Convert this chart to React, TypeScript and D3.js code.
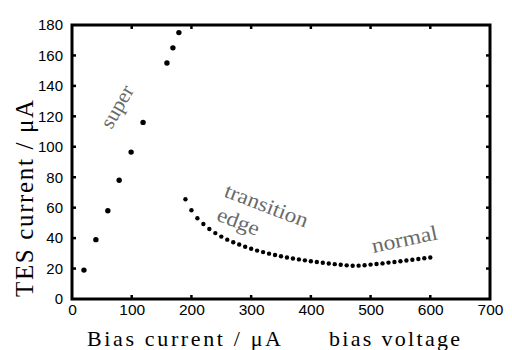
import React, { useEffect, useRef } from 'react';
import * as d3 from 'd3';

// super-conducting branch
const superBias = [20, 40, 60, 79, 99, 119, 159, 169, 179];
const superTes = [19, 39, 58, 78, 96.5, 116, 155, 165, 175];

// transition + normal branch
const transBias = [
  190, 200, 210, 220, 230, 240, 250, 260, 270, 280, 290, 300, 310, 320, 330, 340,
  350, 360, 370, 380, 390, 400, 410, 420, 430, 440, 450, 460, 470, 480, 490, 500,
  510, 520, 530, 540, 550, 560, 570, 580, 590, 600,
];
const transTes = [
  65.5, 58.3, 53, 49.3, 46, 43.3, 41, 39, 37.3, 35.8, 34.3, 33, 31.8, 30.8, 29.8, 28.9,
  28.1, 27.3, 26.6, 26, 25.4, 24.8, 24.3, 23.8, 23.3, 22.9, 22.5, 22.1, 21.8, 21.9, 22.2, 22.6,
  23, 23.4, 23.9, 24.3, 24.8, 25.3, 25.8, 26.3, 26.8, 27.3,
];

const xTicks = [0, 100, 200, 300, 400, 500, 600, 700];
const yTicks = [0, 20, 40, 60, 80, 100, 120, 140, 160, 180];

const W = 512;
const H = 350;
const margin = { top: 25, right: 22, bottom: 51, left: 72 };

const App = () => {
  const svgRef = useRef<SVGSVGElement | null>(null);

  useEffect(() => {
    const svg = d3.select(svgRef.current);
    svg.selectAll('*').remove();

    const innerW = W - margin.left - margin.right;
    const innerH = H - margin.top - margin.bottom;

    const x = d3.scaleLinear().domain([0, 700]).range([0, innerW]);
    const y = d3.scaleLinear().domain([0, 180]).range([innerH, 0]);

    const g = svg.append('g').attr('transform', `translate(${margin.left},${margin.top})`);

    const inner = xTicks.filter((d) => d > 0 && d < 700);
    const innerY = yTicks.filter((d) => d > 0 && d < 180);

    // bottom axis with labels
    const bottom = g.append('g')
      .attr('transform', `translate(0,${innerH})`)
      .call(d3.axisBottom(x).tickValues(xTicks).tickSize(0).tickPadding(5).tickFormat(d3.format('d')));
    bottom.select('.domain').remove();
    bottom.selectAll('text')
      .attr('font-family', '"Liberation Sans", Arial, sans-serif')
      .attr('font-size', 15.5)
      .attr('fill', '#000');

    const left = g.append('g')
      .call(d3.axisLeft(y).tickValues(yTicks).tickSize(0).tickPadding(9).tickFormat(d3.format('d')));
    left.select('.domain').remove();
    left.selectAll('text')
      .attr('font-family', '"Liberation Sans", Arial, sans-serif')
      .attr('font-size', 15)
      .attr('fill', '#000');

    // inward tick marks on all four sides
    const tickLen = 4;
    const ticks = g.append('g').attr('stroke', '#000').attr('stroke-width', 2.5);
    inner.forEach((d) => {
      ticks.append('line').attr('x1', x(d)).attr('x2', x(d)).attr('y1', innerH).attr('y2', innerH - tickLen);
      ticks.append('line').attr('x1', x(d)).attr('x2', x(d)).attr('y1', 0).attr('y2', tickLen);
    });
    innerY.forEach((d) => {
      ticks.append('line').attr('x1', 0).attr('x2', tickLen).attr('y1', y(d)).attr('y2', y(d));
      ticks.append('line').attr('x1', innerW).attr('x2', innerW - tickLen).attr('y1', y(d)).attr('y2', y(d));
    });

    // frame
    g.append('rect')
      .attr('x', 0).attr('y', 0)
      .attr('width', innerW).attr('height', innerH)
      .attr('fill', 'none')
      .attr('stroke', '#000')
      .attr('stroke-width', 3);

    // points
    g.append('g').selectAll('circle')
      .data(superBias.map((b, i) => [b, superTes[i]]))
      .join('circle')
      .attr('cx', (d) => x(d[0]))
      .attr('cy', (d) => y(d[1]))
      .attr('r', 2.7)
      .attr('fill', '#000');

    g.append('g').selectAll('circle')
      .data(transBias.map((b, i) => [b, transTes[i]]))
      .join('circle')
      .attr('cx', (d) => x(d[0]))
      .attr('cy', (d) => y(d[1]))
      .attr('r', 2.2)
      .attr('fill', '#000');

    // region annotations
    const note = (txt: string, px: number, py: number, angle: number, len: number) =>
      svg.append('text')
        .attr('transform', `translate(${px},${py}) rotate(${angle})`)
        .attr('text-anchor', 'middle')
        .attr('font-family', '"Liberation Serif", "Times New Roman", serif')
        .attr('font-size', 21)
        .attr('textLength', len)
        .attr('lengthAdjust', 'spacingAndGlyphs')
        .attr('fill', '#6a6a6a')
        .text(txt);
    note('super', 123, 110, -60, 46);
    note('transition', 264, 212, 21, 88);
    note('edge', 236, 228, 21, 44);
    note('normal', 406, 246, -12, 67);

    // axis titles
    svg.append('text')
      .attr('x', 87).attr('y', 346)
      .attr('font-family', '"Liberation Serif", "Times New Roman", serif')
      .attr('font-size', 22)
      .attr('textLength', 194)
      .attr('lengthAdjust', 'spacing')
      .text('Bias current / μA');
    svg.append('text')
      .attr('x', 329).attr('y', 346)
      .attr('font-family', '"Liberation Serif", "Times New Roman", serif')
      .attr('font-size', 22)
      .attr('textLength', 131)
      .attr('lengthAdjust', 'spacing')
      .text('bias voltage');
    svg.append('text')
      .attr('transform', 'translate(33,297) rotate(-90)')
      .attr('font-family', '"Liberation Serif", "Times New Roman", serif')
      .attr('font-size', 25)
      .attr('textLength', 197)
      .attr('lengthAdjust', 'spacing')
      .text('TES current / μA');
  }, []);

  return (
    <div style={{ position: 'absolute', left: 0, top: 0, width: W, height: H, background: '#fff' }}>
      <svg ref={svgRef} width={W} height={H}></svg>
    </div>
  );
};

export default App;
